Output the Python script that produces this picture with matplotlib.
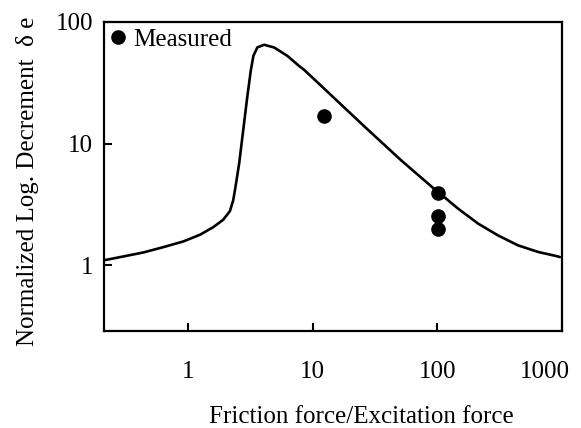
import matplotlib

matplotlib.use("Agg")

import matplotlib.pyplot as plt
from matplotlib.transforms import ScaledTranslation

# curve (log-log)
curve_x = [0.209, 0.302, 0.437, 0.631, 0.912, 1.24, 1.585, 1.905, 2.156, 2.29,
           2.364, 2.435, 2.56, 2.97, 3.17, 3.33, 3.58, 4.06, 4.88, 6.23, 7.73,
           8.47, 11.2, 26.4, 51.5, 95.6, 102, 147, 213, 308, 445, 643, 929, 964]
curve_y = [1.10, 1.185, 1.278, 1.413, 1.573, 1.785, 2.06, 2.37, 2.79, 3.41,
           4.12, 4.97, 6.9, 24.0, 39.6, 52.6, 61.6, 64.8, 61.6, 52.6, 43.5,
           40.5, 31.0, 13.6, 7.25, 4.2, 3.99, 2.92, 2.20, 1.76, 1.46, 1.29,
           1.185, 1.17]

meas_x = [12.2, 102, 102, 102]
meas_y = [17.0, 3.95, 2.55, 2.0]

x_ticks = [1, 10, 100, 1000]
x_labels = ["1", "10", "100", "1000"]
y_ticks = [1, 10, 100]
y_labels = ["1", "10", "100"]

plt.rcParams["font.family"] = ["Liberation Serif", "DejaVu Serif"]

fig = plt.figure(figsize=(5.81, 4.28), dpi=100)
ax = fig.add_axes([0.179, 0.227, 0.788, 0.722])

ax.plot(curve_x, curve_y, color="black", lw=1.9, solid_joinstyle="round",
        solid_capstyle="round")
ax.plot(meas_x, meas_y, "o", color="black", ms=9.5, ls="none", label="Measured")

ax.set_xscale("log")
ax.set_yscale("log")
ax.set_xlim(0.21, 964)
ax.set_ylim(0.29, 100)

ax.set_xticks(x_ticks)
ax.set_xticklabels(x_labels)
ax.set_yticks(y_ticks)
ax.set_yticklabels(y_labels)
ax.minorticks_off()
ax.tick_params(direction="in", length=6, width=1.5, labelsize=18)
ax.tick_params(axis="x", pad=22)
ax.tick_params(axis="y", pad=8)

for s in ax.spines.values():
    s.set_linewidth(1.6)

# last x label sits left of the right spine in the original
lab = ax.get_xticklabels()[-1]
lab.set_transform(lab.get_transform() + ScaledTranslation(-0.17, 0, fig.dpi_scale_trans))

ax.set_xlabel("Friction force/Excitation force", fontsize=18, labelpad=16)
ax.set_ylabel("Normalized Log. Decrement  δ e", fontsize=18, labelpad=11.5)
# the original labels are a bit off-centre
ax.xaxis.label.set_x(0.562)
ax.yaxis.label.set_y(0.485)

ax.legend(loc="upper left", frameon=False, fontsize=18, handlelength=0.6,
          handletextpad=0.3, borderaxespad=0.15, borderpad=0.1)

fig.savefig("out.png", dpi=100)
